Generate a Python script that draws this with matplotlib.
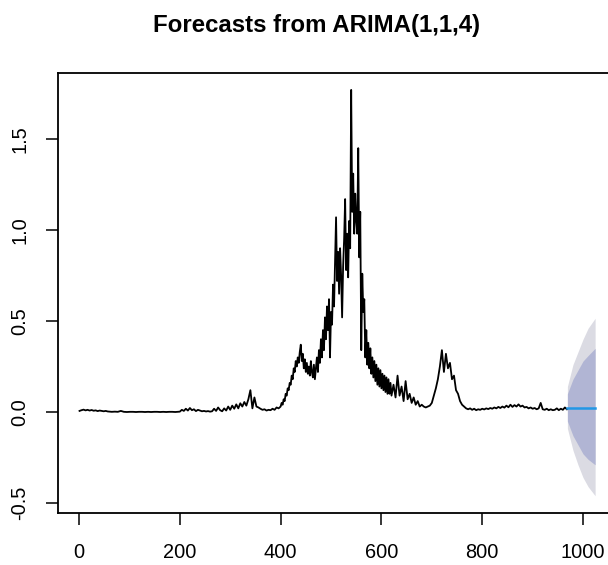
import numpy as np
import matplotlib
matplotlib.use("Agg")
import matplotlib.pyplot as plt

plt.rcParams['font.family'] = ['Liberation Sans', 'DejaVu Sans']

# observed series, stored in segments (start index, step, values)
seg_a_start, seg_a_step = 1, 4
seg_a = [0.006, 0.010, 0.013, 0.009, 0.012, 0.008, 0.011, 0.007, 0.009, 0.005,
         0.008, 0.006, 0.004, 0.006, 0.003, 0.002]
seg_b_start, seg_b_step = 65, 6
seg_b = [0.001, 0.002, 0.001, 0.006, 0.001, 0.000, 0.001, 0.001, 0.000, 0.001,
         0.001, 0.000, 0.001, 0.000, 0.001, 0.001, 0.000, 0.001, 0.000, 0.001,
         0.001, 0.000, 0.001]
seg_c_start, seg_c_step = 200, 4
seg_c = [0.002, 0.012, 0.006, 0.018, 0.008, 0.022, 0.010, 0.015, 0.005, 0.012,
         0.008, 0.004, 0.006, 0.003, 0.005, 0.002, 0.004, 0.018, 0.006, 0.025,
         0.010, 0.004, 0.020, 0.008, 0.030, 0.012, 0.035, 0.018, 0.042, 0.020,
         0.048, 0.030, 0.055, 0.035, 0.070, 0.120, 0.020, 0.080, 0.030, 0.025,
         0.018, 0.012, 0.015, 0.008, 0.012, 0.010, 0.018, 0.012, 0.025, 0.020]
seg_d_start, seg_d_step = 400, 2
seg_d = [0.03, 0.05, 0.04, 0.07, 0.06, 0.10, 0.09, 0.13, 0.12, 0.16, 0.15, 0.20,
         0.18, 0.24, 0.22, 0.28,
         0.25, 0.30, 0.27, 0.33, 0.37, 0.28, 0.32, 0.24, 0.29, 0.22, 0.27, 0.21,
         0.25, 0.20, 0.28, 0.22, 0.19, 0.26, 0.18, 0.24,
         0.30, 0.22, 0.34, 0.27, 0.40, 0.30, 0.45, 0.34, 0.52, 0.40, 0.58, 0.45,
         0.62, 0.30, 0.55,
         0.48, 0.70, 0.58, 0.82, 1.07, 0.72, 0.88, 0.65, 0.90, 0.75, 0.52, 0.80,
         0.95, 1.17, 0.78, 0.98, 0.74, 1.05, 0.90, 1.77, 1.10, 1.31, 0.98, 1.20,
         1.05, 0.98, 1.45, 0.85, 1.10, 0.34,
         0.76, 0.55, 0.62, 0.30, 0.45, 0.26, 0.38, 0.24, 0.35, 0.21, 0.30, 0.19,
         0.28, 0.17, 0.26, 0.15, 0.24, 0.14, 0.23, 0.13, 0.21, 0.12, 0.20, 0.11,
         0.19, 0.10, 0.18, 0.10, 0.16, 0.09]
seg_e_start, seg_e_step = 624, 4
seg_e = [0.15, 0.08, 0.20, 0.09, 0.14, 0.06, 0.17, 0.07, 0.10, 0.05, 0.08, 0.04,
         0.06, 0.03, 0.04,
         0.03, 0.025, 0.03, 0.035, 0.05,
         0.09, 0.13, 0.18, 0.25, 0.34, 0.22, 0.32, 0.24, 0.27, 0.18, 0.20, 0.12,
         0.10, 0.06, 0.04,
         0.03, 0.02, 0.015, 0.02, 0.012, 0.018, 0.01, 0.015, 0.012, 0.018, 0.014,
         0.02, 0.016, 0.022, 0.018, 0.025, 0.02, 0.028, 0.022, 0.03, 0.024, 0.035,
         0.026, 0.04, 0.028, 0.038, 0.03, 0.042, 0.03, 0.035, 0.025, 0.028, 0.02,
         0.025, 0.018, 0.022, 0.015, 0.02, 0.05, 0.015, 0.012, 0.018, 0.01, 0.015,
         0.01, 0.012, 0.02, 0.01, 0.018, 0.012, 0.025, 0.015]

# forecast fan
fc_x = [969, 980, 990, 1000, 1010, 1024]
fc_mean = [0.024, 0.024, 0.024, 0.024, 0.024, 0.024]
lo80 = [-0.05, -0.13, -0.18, -0.23, -0.26, -0.29]
hi80 = [0.10, 0.18, 0.23, 0.28, 0.31, 0.35]
lo95 = [-0.09, -0.21, -0.29, -0.36, -0.41, -0.46]
hi95 = [0.14, 0.26, 0.33, 0.40, 0.46, 0.515]

segments = [(seg_a_start, seg_a_step, seg_a), (seg_b_start, seg_b_step, seg_b),
            (seg_c_start, seg_c_step, seg_c), (seg_d_start, seg_d_step, seg_d),
            (seg_e_start, seg_e_step, seg_e)]
t = np.concatenate([s + st * np.arange(len(v)) for s, st, v in segments])
y = np.concatenate([v for _, _, v in segments])

W, H = 608, 565
fig = plt.figure(figsize=(W / 100, H / 100), dpi=100)
ax = fig.add_axes([58 / W, (H - 513) / H, (643 - 58) / W, (513 - 73) / H])

ax.fill_between(fc_x, lo95, hi95, color='#DBDBE3', lw=0)
ax.fill_between(fc_x, lo80, hi80, color='#B1B5D4', lw=0)
ax.plot(t, y, color='black', lw=1.3)
ax.plot(fc_x, fc_mean, color='#2297E6', lw=1.8)

ax.set_xlim(-41.7, 1119)
ax.set_ylim(-0.555, 1.863)
ax.set_xticks([0, 200, 400, 600, 800, 1000])
ax.set_yticks([-0.5, 0.0, 0.5, 1.0, 1.5])
ax.set_yticklabels(['-0.5', '0.0', '0.5', '1.0', '1.5'], rotation=90, va='center')
ax.tick_params(length=8.6, width=1.1, labelsize=14.4, direction='out')
ax.tick_params(axis='x', pad=13)
ax.tick_params(axis='y', pad=12)
for sp in ax.spines.values():
    sp.set_linewidth(1.3)

fig.text(317 / W, 1 - 32 / H, 'Forecasts from ARIMA(1,1,4)', ha='center',
         va='baseline', fontsize=17.3, fontweight='bold')

fig.savefig('out.png', dpi=100)
